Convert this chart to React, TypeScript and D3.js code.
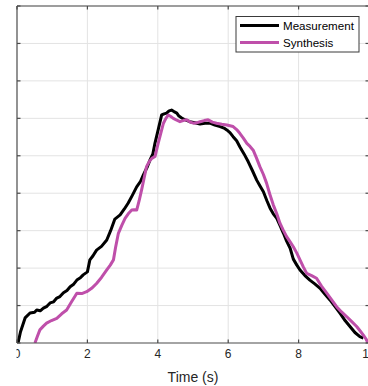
import React from "react";
import * as d3 from "d3";

// Time (s) and normalised amplitude for the measured trace
const measTime = [0.0, 0.03, 0.1, 0.23, 0.37, 0.5, 0.56, 0.66, 0.75, 0.85, 0.94, 1.04, 1.13, 1.22, 1.32, 1.42, 1.51, 1.6, 1.7, 1.8, 1.88, 2.0, 2.07, 2.16, 2.26, 2.4, 2.55, 2.66, 2.78, 2.93, 3.05, 3.16, 3.28, 3.4, 3.5, 3.59, 3.7, 3.78, 3.86, 3.92, 4.01, 4.11, 4.18, 4.25, 4.32, 4.39, 4.46, 4.54, 4.6, 4.68, 4.8, 4.91, 5.05, 5.2, 5.34, 5.48, 5.62, 5.77, 5.88, 5.96, 6.05, 6.14, 6.24, 6.33, 6.45, 6.57, 6.69, 6.81, 6.9, 7.0, 7.1, 7.19, 7.28, 7.38, 7.48, 7.57, 7.66, 7.76, 7.85, 7.95, 8.04, 8.18, 8.32, 8.46, 8.61, 8.75, 8.89, 9.03, 9.18, 9.32, 9.46, 9.6, 9.74, 9.84];
const measValue = [0.0, 0.0, 0.3, 0.67, 0.8, 0.82, 0.88, 0.86, 0.93, 0.98, 1.07, 1.1, 1.2, 1.24, 1.34, 1.4, 1.5, 1.56, 1.68, 1.74, 1.82, 1.9, 2.22, 2.33, 2.48, 2.58, 2.75, 3.0, 3.31, 3.42, 3.58, 3.74, 3.95, 4.17, 4.3, 4.49, 4.7, 4.89, 5.05, 5.34, 5.69, 6.09, 6.12, 6.14, 6.2, 6.22, 6.18, 6.14, 6.06, 6.01, 5.95, 5.91, 5.88, 5.85, 5.87, 5.87, 5.82, 5.78, 5.74, 5.69, 5.62, 5.51, 5.4, 5.24, 5.05, 4.84, 4.6, 4.35, 4.2, 4.04, 3.8, 3.6, 3.45, 3.33, 3.12, 2.93, 2.72, 2.53, 2.24, 2.08, 1.95, 1.8, 1.68, 1.58, 1.46, 1.3, 1.15, 0.98, 0.79, 0.6, 0.44, 0.28, 0.17, 0.13];

// Time (s) and normalised amplitude for the synthesised trace
const synthTime = [0.51, 0.58, 0.65, 0.75, 0.84, 0.98, 1.13, 1.27, 1.41, 1.55, 1.7, 1.84, 1.98, 2.12, 2.26, 2.4, 2.55, 2.65, 2.74, 2.8, 2.88, 2.98, 3.07, 3.16, 3.26, 3.33, 3.4, 3.47, 3.54, 3.61, 3.68, 3.76, 3.83, 3.92, 4.01, 4.11, 4.16, 4.23, 4.3, 4.37, 4.44, 4.54, 4.63, 4.72, 4.82, 4.92, 5.01, 5.1, 5.2, 5.32, 5.43, 5.55, 5.67, 5.82, 5.96, 6.05, 6.14, 6.24, 6.33, 6.43, 6.53, 6.62, 6.71, 6.8, 6.9, 7.0, 7.09, 7.18, 7.28, 7.38, 7.47, 7.56, 7.66, 7.76, 7.85, 7.95, 8.04, 8.13, 8.23, 8.37, 8.51, 8.65, 8.8, 8.94, 9.08, 9.22, 9.37, 9.51, 9.65, 9.75, 9.84, 9.92, 9.97];
const synthValue = [0.0, 0.18, 0.35, 0.45, 0.53, 0.6, 0.66, 0.78, 0.88, 1.1, 1.33, 1.32, 1.37, 1.46, 1.59, 1.75, 1.95, 2.08, 2.22, 2.55, 2.93, 3.15, 3.33, 3.45, 3.55, 3.56, 3.55, 3.8, 4.09, 4.4, 4.71, 4.85, 4.93, 4.98, 5.33, 5.69, 5.87, 6.0, 6.09, 6.05, 6.0, 5.95, 5.91, 5.94, 5.96, 5.9, 5.87, 5.88, 5.91, 5.94, 5.96, 5.9, 5.87, 5.84, 5.82, 5.8, 5.78, 5.7, 5.6, 5.47, 5.33, 5.25, 5.15, 4.95, 4.71, 4.5, 4.27, 3.98, 3.69, 3.45, 3.2, 3.02, 2.84, 2.7, 2.57, 2.4, 2.22, 2.04, 1.86, 1.8, 1.73, 1.52, 1.33, 1.15, 0.97, 0.83, 0.7, 0.57, 0.44, 0.32, 0.21, 0.1, 0.0];

const xTicks = [0, 2, 4, 6, 8, 10];
const yTicks = [0, 1, 2, 3, 4, 5, 6, 7, 8, 9];

const seriesNames = ["Measurement", "Synthesis"];
const seriesColors = ["#000000", "#BF4FAA"];

const W = 368;
const H = 386;
const left = 17;
const right = 369;
const top = 6;
const bottom = 343;

export default function App() {
  const x = d3.scaleLinear().domain([0, 10]).range([left, right]);
  const y = d3.scaleLinear().domain([0, 9]).range([bottom, top]);

  const line = d3
    .line<[number, number]>()
    .x((d) => x(d[0]))
    .y((d) => y(d[1]))
    .curve(d3.curveLinear);

  const meas = measTime.map((t, i) => [t, measValue[i]] as [number, number]);
  const synth = synthTime.map((t, i) => [t, synthValue[i]] as [number, number]);

  const gridColor = "#e3e3e3";
  const axisColor = "#4a4a4a";
  const font = "'Liberation Sans', Arial, Helvetica, sans-serif";

  return (
    <svg
      width={W}
      height={H}
      style={{ position: "absolute", left: 0, top: 0, background: "#fff" }}
    >
      <defs>
        <clipPath id="plotClip">
          <rect x={left} y={top} width={right - left} height={bottom - top} />
        </clipPath>
        <clipPath id="labelClip">
          <rect x={16.5} y={0} width={W} height={H} />
        </clipPath>
      </defs>

      {/* grid */}
      <g>
        {xTicks.slice(1, -1).map((t) => (
          <line key={"gx" + t} x1={x(t)} x2={x(t)} y1={top} y2={bottom} stroke={gridColor} strokeWidth={1} />
        ))}
        {yTicks.slice(1).map((t) => (
          <line key={"gy" + t} x1={left} x2={right} y1={y(t)} y2={y(t)} stroke={gridColor} strokeWidth={1} />
        ))}
      </g>

      {/* series */}
      <g clipPath="url(#plotClip)">
        <path d={line(meas) ?? ""} fill="none" stroke={seriesColors[0]} strokeWidth={3} strokeLinejoin="round" />
        <path d={line(synth) ?? ""} fill="none" stroke={seriesColors[1]} strokeWidth={3} strokeLinejoin="round" />
      </g>

      {/* axes box */}
      <g stroke={axisColor} strokeWidth={1.2} fill="none">
        <line x1={left} x2={right} y1={top} y2={top} />
        <line x1={left} x2={right} y1={bottom} y2={bottom} />
        <line x1={left} x2={left} y1={top} y2={bottom} />
        <line x1={right} x2={right} y1={top} y2={bottom} />
        {xTicks.map((t) => (
          <g key={"tx" + t}>
            <line x1={x(t)} x2={x(t)} y1={bottom} y2={bottom - 3.5} />
            <line x1={x(t)} x2={x(t)} y1={top} y2={top + 3.5} />
          </g>
        ))}
        {yTicks.map((t) => (
          <g key={"ty" + t}>
            <line x1={left} x2={left + 3.5} y1={y(t)} y2={y(t)} />
            <line x1={right} x2={right - 3.5} y1={y(t)} y2={y(t)} />
          </g>
        ))}
      </g>

      {/* x tick labels */}
      <g clipPath="url(#labelClip)" fontFamily={font} fontSize={12} fill="#262626">
        {xTicks.map((t) => (
          <text key={"lx" + t} x={x(t)} y={358} textAnchor="middle">
            {t}
          </text>
        ))}
      </g>
      <text x={(left + right) / 2} y={382} textAnchor="middle" fontFamily={font} fontSize={14} fill="#262626">
        Time (s)
      </text>

      {/* legend */}
      <g>
        <rect x={236} y={16.5} width={123} height={35.5} fill="#fff" stroke="#3a3a3a" strokeWidth={1} />
        {seriesNames.map((name, i) => (
          <g key={name}>
            <line x1={240} x2={279} y1={25.5 + i * 17} y2={25.5 + i * 17} stroke={seriesColors[i]} strokeWidth={3} />
            <text x={283} y={29.8 + i * 17} fontFamily={font} fontSize={11.6} fill="#000">
              {name}
            </text>
          </g>
        ))}
      </g>
    </svg>
  );
}
